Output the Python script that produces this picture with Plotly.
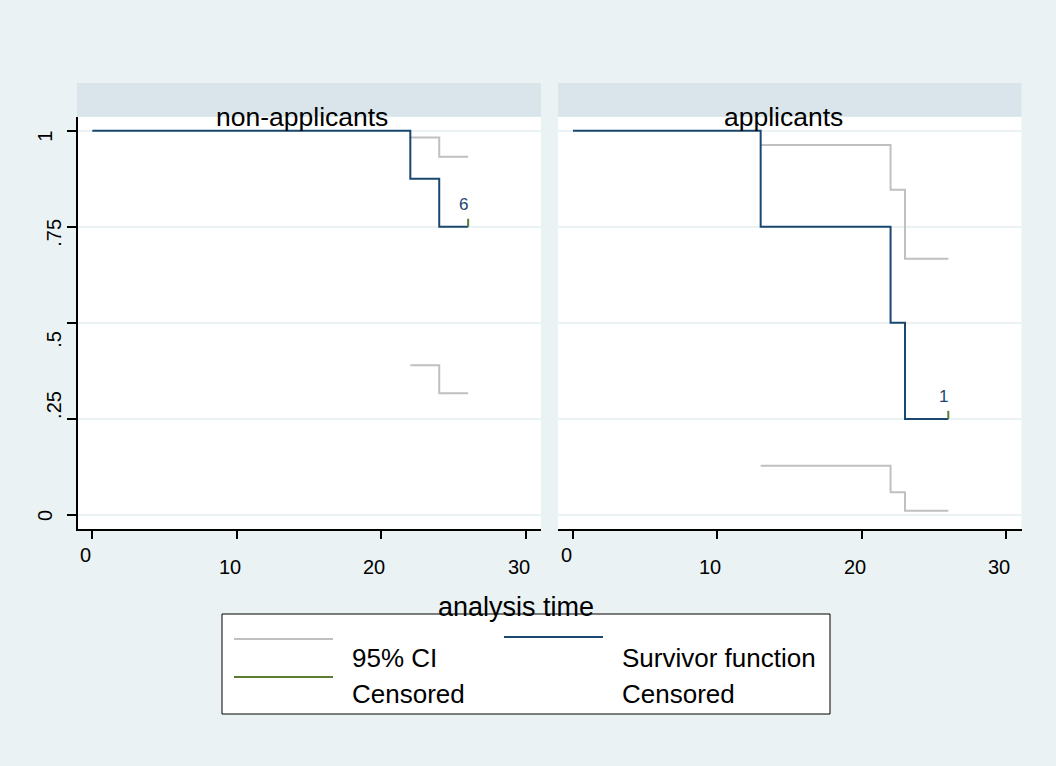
import plotly.graph_objects as go

W, H = 1056, 766

# ---------------- data ----------------
panels = ["non-applicants", "applicants"]

non_time = [0, 22, 24, 26]
non_surv = [1.0, 0.875, 0.75, 0.75]
non_ci_time = [22, 24, 26]
non_ci_lo = [0.390, 0.317, 0.317]
non_ci_hi = [0.982, 0.932, 0.932]
non_cens_time = [26]
non_cens_surv = [0.75]
non_cens_n = ["6"]

app_time = [0, 13, 22, 23, 26]
app_surv = [1.0, 0.75, 0.5, 0.25, 0.25]
app_ci_time = [13, 22, 23, 26]
app_ci_lo = [0.128, 0.059, 0.011, 0.011]
app_ci_hi = [0.963, 0.846, 0.667, 0.667]
app_cens_time = [26]
app_cens_surv = [0.25]
app_cens_n = ["1"]

x_ticks = [0, 10, 20, 30]
x_ticklabels = ["0", "10", "20", "30"]
y_ticks = [0, 0.25, 0.5, 0.75, 1]
y_ticklabels = ["0", ".25", ".5", ".75", "1"]

x_title = "analysis time"
legend_labels = ["95% CI", "Survivor function", "Censored", "Censored"]

# ---------------- style ----------------
FONT = "Liberation Sans, Arial, Helvetica, sans-serif"
BG = "#EAF2F3"
STRIP = "#D9E5EA"
GRID = "#EAF2F3"
NAVY = "#1A476F"
CIGRAY = "#C0C0C0"
GREEN = "#5A7D32"
CENS_TICK = 0.021

def px(x):
    return x / W

def py(y):
    return 1 - y / H

fig = go.Figure()

series = [
    ("x", "y", non_time, non_surv, non_ci_time, non_ci_lo, non_ci_hi,
     non_cens_time, non_cens_surv, non_cens_n),
    ("x2", "y2", app_time, app_surv, app_ci_time, app_ci_lo, app_ci_hi,
     app_cens_time, app_cens_surv, app_cens_n),
]

for xa, ya, t, s, ct, lo, hi, cx, cs, cn in series:
    for band in (hi, lo):
        fig.add_trace(go.Scatter(x=ct, y=band, mode="lines", xaxis=xa, yaxis=ya,
                                 line=dict(color=CIGRAY, width=2, shape="hv"),
                                 hoverinfo="skip"))
    fig.add_trace(go.Scatter(x=t, y=s, mode="lines", xaxis=xa, yaxis=ya,
                             line=dict(color=NAVY, width=2, shape="hv")))
    for xc, sc, n in zip(cx, cs, cn):
        fig.add_trace(go.Scatter(x=[xc, xc], y=[sc, sc + CENS_TICK], mode="lines",
                                 xaxis=xa, yaxis=ya,
                                 line=dict(color=GREEN, width=2)))
        fig.add_annotation(x=xc, y=sc, xref=xa, yref=ya, text=n, showarrow=False,
                           xanchor="center", yanchor="middle", xshift=-4.5, yshift=22,
                           font=dict(family=FONT, size=17, color=NAVY))

axis_common = dict(showline=True, linecolor="black", linewidth=1.5,
                   ticks="outside", tickcolor="black", tickwidth=1.5,
                   showticklabels=False, zeroline=False)

ydom = [py(529), py(116.7)]
yr = [-0.0364, 1.0364]

fig.update_layout(
    width=W, height=H, autosize=False,
    margin=dict(l=0, r=0, t=0, b=0),
    paper_bgcolor=BG, plot_bgcolor="white", showlegend=False,
    xaxis=dict(domain=[px(78), px(541)], range=[-0.989, 31.04], anchor="y",
               tickvals=x_ticks, ticklen=8, showgrid=False, **axis_common),
    xaxis2=dict(domain=[px(558), px(1021.5)], range=[-1.039, 31.07], anchor="y2",
                tickvals=x_ticks, ticklen=8, showgrid=False, **axis_common),
    yaxis=dict(domain=ydom, range=yr, anchor="x", tickvals=y_ticks, ticklen=9,
               showgrid=True, gridcolor=GRID, gridwidth=2, **axis_common),
    yaxis2=dict(domain=ydom, range=yr, anchor="x2", tickvals=y_ticks,
                showgrid=True, gridcolor=GRID, gridwidth=2, showline=False,
                ticks="", showticklabels=False, zeroline=False),
)

# strips with panel titles
strip_x = [(77, 541), (558, 1021.5)]
strip_title_x = [302, 783]
for (x0, x1), name, tx in zip(strip_x, panels, strip_title_x):
    fig.add_shape(type="rect", xref="paper", yref="paper",
                  x0=px(x0), x1=px(x1), y0=py(116.7), y1=py(83),
                  fillcolor=STRIP, line=dict(width=0), layer="below")
    fig.add_annotation(x=px(tx), y=py(117.5), xref="paper", yref="paper", text=name,
                       showarrow=False, xanchor="center", yanchor="middle",
                       font=dict(family=FONT, size=26.5, color="black"))

# x tick labels (Stata-style placement: "0" sits higher)
for xa in ("x", "x2"):
    for v, lab in zip(x_ticks, x_ticklabels):
        yc = 554.5 if v == 0 else 567
        fig.add_annotation(x=v, y=py(yc), xref=xa, yref="paper", text=lab,
                           showarrow=False, xanchor="center", yanchor="middle",
                           xshift=-7, font=dict(family=FONT, size=20, color="black"))

# y tick labels (rotated)
y_lab_cx = {"0": 45, ".25": 54, ".5": 54, ".75": 54, "1": 45}
y_lab_dy = {"0": 1, ".25": -14, ".5": 17, ".75": 6, "1": 6}
for v, lab in zip(y_ticks, y_ticklabels):
    fig.add_annotation(x=px(y_lab_cx[lab]), y=v, xref="paper", yref="y", text=lab,
                       showarrow=False, xanchor="center", yanchor="middle",
                       textangle=-90, yshift=-y_lab_dy[lab],
                       font=dict(family=FONT, size=20, color="black"))

# legend box
fig.add_shape(type="rect", xref="paper", yref="paper",
              x0=px(222), x1=px(830), y0=py(714), y1=py(614),
              fillcolor="white", line=dict(color="black", width=1))
fig.add_shape(type="line", xref="paper", yref="paper", x0=px(234), x1=px(333),
              y0=py(639), y1=py(639), line=dict(color=CIGRAY, width=2))
fig.add_shape(type="line", xref="paper", yref="paper", x0=px(504), x1=px(603),
              y0=py(637), y1=py(637), line=dict(color=NAVY, width=2))
fig.add_shape(type="line", xref="paper", yref="paper", x0=px(234), x1=px(333),
              y0=py(677), y1=py(677), line=dict(color=GREEN, width=2))
leg_pos = [(350, 658), (620, 658), (350, 694), (620, 694)]
for lab, (lx, ly) in zip(legend_labels, leg_pos):
    fig.add_annotation(x=px(lx), y=py(ly), xref="paper", yref="paper", text=lab,
                       showarrow=False, xanchor="left", yanchor="middle",
                       font=dict(family=FONT, size=26, color="black"))

# x-axis title (overlapping the legend top, as in the original)
fig.add_annotation(x=px(516), y=py(607), xref="paper", yref="paper", text=x_title,
                   showarrow=False, xanchor="center", yanchor="middle",
                   font=dict(family=FONT, size=27, color="black"))

fig.write_html("out.html")
